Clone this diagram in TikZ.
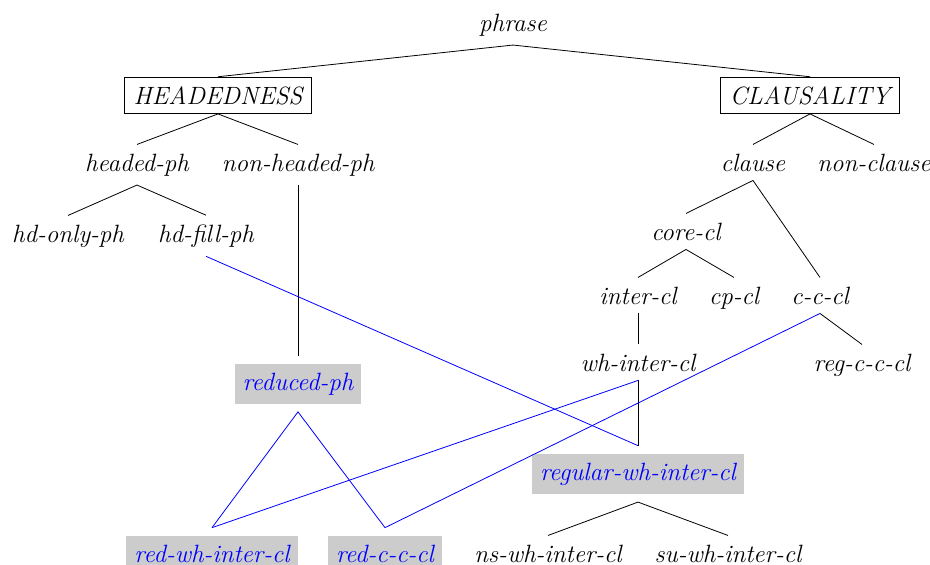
\documentclass[tikz,border=0pt]{standalone}
\begin{document}
\begin{tikzpicture}[x=1pt,y=-1pt,
  every node/.style={font=\fontsize{25}{30}\selectfont\itshape, inner sep=9pt, anchor=base},
  boxed/.style={draw, line width=0.8pt},
  hili/.style={fill=black!20, text=blue, inner xsep=8pt, inner ysep=9pt, outer sep=8pt},
  edge/.style={draw=black, line width=0.8pt},
  bedge/.style={draw=blue, line width=0.8pt}]
\useasboundingbox (0,0) rectangle (930,565);
\node (phrase) at (513,31) {phrase};
\node[boxed] (head) at (218,104) {HEADEDNESS};
\node[boxed] (claus) at (810,104) {CLAUSALITY};
\node (hdph) at (137,171) {headed-ph};
\node (nhdph) at (298,171) {non-headed-ph};
\node (clause) at (753,171) {clause};
\node (nclause) at (874,171) {non-clause};
\node (hdonly) at (68,242) {hd-only-ph};
\node (hdfill) at (206,242) {hd-fill-ph};
\node (corecl) at (686,240) {core-cl};
\node (intercl) at (638,304) {inter-cl};
\node (cpcl) at (734,304) {cp-cl};
\node (cccl) at (820,304) {c-c-cl};
\node (whinter) at (638,371) {wh-inter-cl};
\node (regccl) at (862,371) {reg-c-c-cl};
\node[hili] (redph) at (298,390) {reduced-ph};
\node[hili] (regwh) at (638,480) {regular-wh-inter-cl};
\node (nswh) at (548,562) {ns-wh-inter-cl};
\node (suwh) at (728,562) {su-wh-inter-cl};
\node[hili] (redwh) at (212,562) {red-wh-inter-cl};
\node[hili] (redccl) at (385,562) {red-c-c-cl};
% black tree
\path[edge] (head.north) -- (phrase.south) -- (claus.north);
\path[edge] (hdph.north) -- (head.south) -- (nhdph.north);
\path[edge] (clause.north) -- (claus.south) -- (nclause.north);
\path[edge] (hdonly.north) -- (hdph.south) -- (hdfill.north);
\path[edge] (nhdph.south) -- (redph.north);
\path[edge] (corecl.north) -- (clause.south) -- (cccl.north);
\path[edge] (intercl.north) -- (corecl.south) -- (cpcl.north);
\path[edge] (intercl.south) -- (whinter.north);
\path[edge] (cccl.south) -- (regccl.north);
\path[edge] (whinter.south) -- (regwh.north);
\path[edge] (nswh.north) -- (regwh.south) -- (suwh.north);
% blue links
\path[bedge] (hdfill.south) -- (regwh.north);
\path[bedge] (redwh.north) -- (redph.south) -- (redccl.north);
\path[bedge] (whinter.south) -- (redwh.north);
\path[bedge] (cccl.south) -- (redccl.north);
\end{tikzpicture}
\end{document}
